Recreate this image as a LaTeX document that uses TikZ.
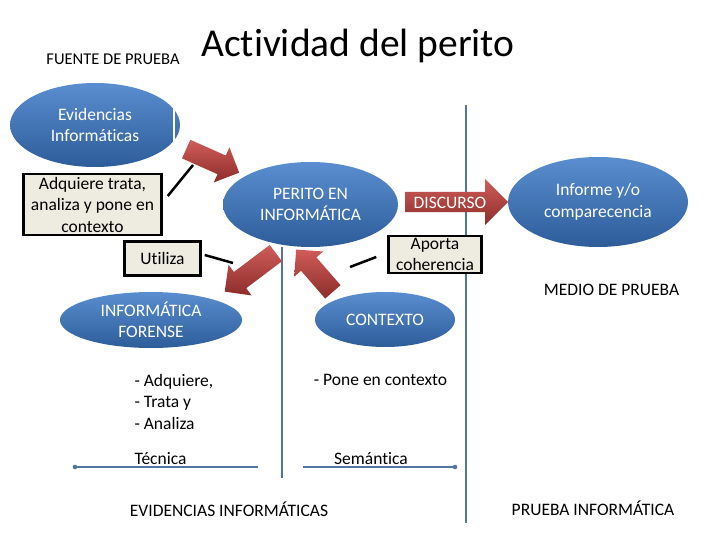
\documentclass[tikz,border=0pt]{standalone}
\usepackage{fontspec}
\setmainfont{Carlito}[Ligatures=NoCommon]
\usetikzlibrary{shapes.geometric,shapes.arrows,calc}

\definecolor{ovaltop}{HTML}{5A8ED0}
\definecolor{ovalbot}{HTML}{2D5C99}
\definecolor{arrowred}{HTML}{C8403C}
\definecolor{notefill}{HTML}{EEECE1}
\definecolor{rulecol}{HTML}{5276A3}

\newcommand{\txt}{\fontsize{17.5}{21.5}\selectfont}

\tikzset{
  blob/.style={ellipse,top color=ovaltop,bottom color=ovalbot,text=white,align=center,inner sep=0pt,font=\txt},
  notebox/.style={draw=black,line width=2.5pt,fill=notefill,align=center,inner sep=0pt,font=\txt},
  bigarrow/.style={single arrow,top color=arrowred!85!white,bottom color=arrowred!70!black,
    inner sep=0pt,minimum width=0pt,text height=20pt,text depth=0pt,single arrow head extend=9pt,anchor=tail},
  callout/.style={line width=2.5pt},
  rulev/.style={draw=rulecol,line width=1.2pt},
  ruleh/.style={draw=rulecol,line width=2.5pt},
  plain/.style={font=\txt}
}

\begin{document}
\begin{tikzpicture}[x=1pt,y=-1pt]
  \useasboundingbox (0,0) rectangle (720,540);

  \node[font=\fontsize{16.5}{19}\selectfont] (fuente) at (113,59) {FUENTE DE PRUEBA};
  \node[font=\fontsize{39.5}{46}\selectfont] (titulo) at (358,46) {Actividad del perito};

  \draw[rulev] (466,105) -- (466,523);
  \draw[rulev] (282,247) -- (282,478);

  \node[blob,minimum width=170,minimum height=84] (evid) at (95,125) {Evidencias\\Informáticas};
  \draw[white,line width=1.5pt] (174,108) -- (174,147);
  \node[blob,minimum width=175,minimum height=85] (perito) at (310.5,204.5) {PERITO EN\\INFORMÁTICA};
  \node[blob,minimum width=180,minimum height=90] (informe) at (598,202) {Informe y/o\\comparecencia};
  \node[blob,minimum width=182,minimum height=56] (forense) at (151,320) {INFORMÁTICA\\FORENSE};
  \node[blob,minimum width=140,minimum height=55] (contexto) at (385,319.5) {CONTEXTO};

  \node[notebox,minimum width=138,minimum height=61] (adq) at (92.5,204.5) {Adquiere trata,\\analiza y pone en\\contexto};
  \node[notebox,minimum width=76,minimum height=34] (utl) at (162.5,258.5) {Utiliza};
  \node[notebox,minimum width=93,minimum height=37,font=\fontsize{17.5}{20.5}\selectfont] (apo) at (435,254.5) {Aporta\\coherencia};

  \coordinate (t1) at (186,149);
  \coordinate (t2) at (276,253);
  \coordinate (t3) at (333,292);
  \coordinate (t4) at (405,202);
  \node[bigarrow,rotate=-24,minimum height=58] (a1) at (t1) {};
  \node[bigarrow,rotate=-143,minimum height=64] (a2) at (t2) {};
  \node[bigarrow,rotate=131,minimum height=56] (a3) at (t3) {};
  \node[bigarrow,minimum height=103,single arrow head extend=13pt] (a4) at (t4) {};
  \node[plain,text=white] (disc) at (450,203) {DISCURSO};

  \coordinate (p1) at (193,165);
  \coordinate (p2) at (233,263);
  \coordinate (p3) at (350,267);
  \draw[callout] ($(adq.east)+(5,-8.5)$) -- (p1);
  \draw[callout] ($(utl.east)+(3,-3.5)$) -- (p2);
  \draw[callout] ($(apo.west)+(-11,2.5)$) -- (p3);

  \node[plain] (medio) at (611.5,290) {MEDIO DE PRUEBA};
  \node[plain,align=left,anchor=west] (lista) at (131,401.5) {- Adquiere,\\- Trata y\\- Analiza};
  \node[plain] (pone) at (380.5,380) {- Pone en contexto};
  \node[plain,anchor=west] (tecnica) at (131,459) {Técnica};
  \node[plain] (seman) at (371,459) {Semántica};

  \coordinate (h1) at (75,467);
  \coordinate (h2) at (258,467);
  \coordinate (h3) at (303,467);
  \coordinate (h4) at (455,467);
  \draw[ruleh] (h1) -- (h2);
  \draw[ruleh] (h3) -- (h4);
  \fill[rulecol] (h1) circle (2.3pt) (h4) circle (2.3pt);

  \node[plain] (evinf) at (229,509) {EVIDENCIAS INFORMÁTICAS};
  \node[plain] (prinf) at (593,508) {PRUEBA INFORMÁTICA};
\end{tikzpicture}
\end{document}
